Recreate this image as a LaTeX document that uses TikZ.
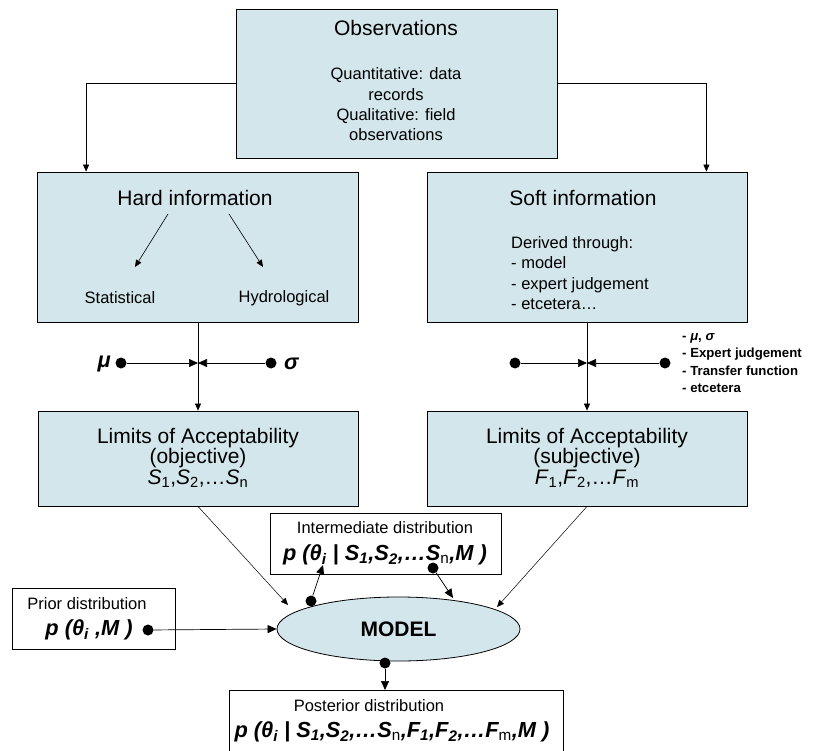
\documentclass[tikz,border=0pt]{standalone}
\usepackage{fontspec}
\setmainfont{Liberation Sans}
\usetikzlibrary{arrows.meta,shapes.geometric}
\definecolor{boxblue}{RGB}{211,230,236}
\begin{document}
\begin{tikzpicture}[x=1pt,y=-1pt,
  box/.style={draw, line width=0.8pt, fill=boxblue, inner sep=0pt},
  wbox/.style={draw, line width=0.8pt, fill=white, inner sep=0pt},
  bigf/.style={font=\fontsize{21}{20.5}\selectfont},
  fmf/.style={font=\fontsize{21.8}{22}\selectfont},
  midf/.style={font=\fontsize{16.5}{20.3}\selectfont},
  smallf/.style={font=\bfseries\fontsize{13.2}{17.5}\selectfont},
  arr/.style={-{Triangle[length=9pt,width=8pt]}, line width=0.7pt},
  sarr/.style={-{Triangle[length=7pt,width=6pt]}, line width=0.6pt},
  dotn/.style={circle, fill=black, inner sep=0pt, minimum size=11pt},
  txt/.style={inner sep=0pt}]
\clip (0,0) rectangle (813,751);
\fill[white] (0,0) rectangle (813,751);

% boxes
\node[box, minimum width=321pt, minimum height=149pt] (obs) at (396.5,83.5) {};
\node[box, minimum width=321pt, minimum height=150pt] (hard) at (198,247) {};
\node[box, minimum width=320pt, minimum height=150pt] (soft) at (587,247) {};
\node[box, minimum width=320pt, minimum height=95pt] (limL) at (198,458.5) {};
\node[box, minimum width=320pt, minimum height=95pt] (limR) at (587,458.5) {};
\node[wbox, minimum width=231pt, minimum height=61pt] (inter) at (385.5,543.5) {};
\node[wbox, minimum width=163pt, minimum height=61pt] (prior) at (93.5,618.5) {};
\node[wbox, minimum width=334pt, minimum height=90pt] (post) at (396,735) {};
\node[ellipse, draw, line width=0.8pt, fill=boxblue, minimum width=243pt, minimum height=64pt, inner sep=0pt, bigf] (model) at (398.5,629) {\bfseries MODEL};

% texts
\node[txt, bigf] (obsT) at (396,28) {Observations};
\node[txt, midf, align=center] (obsB) at (396,104.5) {Quantitative: data\\records\\Qualitative: field\\observations};
\node[txt, bigf] (hardT) at (195,198) {Hard information};
\node[txt, midf] (stat) at (120,298) {Statistical};
\node[txt, midf] (hydro) at (284,298) {Hydrological};
\node[txt, bigf] (softT) at (583,198) {Soft information};
\node[txt, midf, align=left, anchor=west] (softB) at (511,273) {Derived through:\\- model\\- expert judgement\\- etcetera…};
\node[txt, bigf, align=center] (limLT) at (198,457.5) {Limits of Acceptability\\(objective)\\\textit{S}\textsubscript{1},\textit{S}\textsubscript{2},…\textit{S}\textsubscript{n}};
\node[txt, bigf, align=center] (limRT) at (587,457.5) {Limits of Acceptability\\(subjective)\\\textit{F}\textsubscript{1},\textit{F}\textsubscript{2},…\textit{F}\textsubscript{m}};
\node[txt, midf] (interT) at (385,528) {Intermediate distribution};
\node[txt, fmf] (interF) at (385,555) {\bfseries\itshape p (θ\textsubscript{i} | S\textsubscript{1},S\textsubscript{2},…S\textsubscript{\upshape\mdseries n},M )};
\node[txt, midf] (priorT) at (87,604) {Prior distribution};
\node[txt, fmf] (priorF) at (89,630) {\bfseries\itshape p (θ\textsubscript{i} ,M )};
\node[txt, midf] (postT) at (369,706) {Posterior distribution};
\node[txt, fmf] (postF) at (392,732) {\bfseries\itshape p (θ\textsubscript{i} | S\textsubscript{1},S\textsubscript{2},…S\textsubscript{\upshape\mdseries n},F\textsubscript{1},F\textsubscript{2},…F\textsubscript{\upshape\mdseries m},M )};
\node[txt, fmf, anchor=east] (muL) at (111,364) {\bfseries\itshape μ};
\node[txt, fmf, anchor=west] (sgL) at (284,364) {\bfseries\itshape σ};
\node[txt, smallf, align=left, anchor=west] (rlist) at (682,363) {- \textit{μ}, \textit{σ}\\- Expert judgement\\- Transfer function\\- etcetera};

% observation connectors
\draw[sarr] (obs.west) -| ([xshift=49pt]hard.north west);
\draw[sarr] (obs.east) -| ([xshift=-41pt]soft.north east);

% hard information inner arrows
\coordinate (h1) at (168,214); \coordinate (h1e) at (135,267);
\coordinate (h2) at (229,214); \coordinate (h2e) at (263,267);
\draw[sarr] (h1) -- (h1e);
\draw[sarr] (h2) -- (h2e);

% mu sigma junctions
\coordinate (jH) at (198,363);
\coordinate (jS) at (587,363);
\node[dotn] (muDot) at (121,363) {};
\node[dotn] (sgDot) at (271,363) {};
\node[dotn] (rD1) at (515,363) {};
\node[dotn] (rD2) at (665,363) {};
\draw[line width=0.7pt] (hard.south) -- (jH);
\draw[sarr] (jH) -- (limL.north);
\draw[arr] (muDot) -- (jH);
\draw[arr] (sgDot) -- (jH);
\draw[line width=0.7pt] (soft.south) -- (jS);
\draw[sarr] (jS) -- (limR.north);
\draw[arr] (rD1) -- (jS);
\draw[arr] (rD2) -- (jS);

% limits to model
\coordinate (mL) at (288,605);
\coordinate (mR) at (497,607);
\draw[sarr, line width=0.5pt] (limL.south) -- (mL);
\draw[sarr, line width=0.5pt] (limR.south) -- (mR);

% prior to model
\node[dotn] (prDot) at (148,630) {};
\draw[arr] (prDot) -- (model.west);

% intermediate
\node[dotn] (iD1) at (311,601) {};
\node[dotn] (iD2) at (433,568) {};
\coordinate (iT1) at (323,565);
\coordinate (iT2) at (453,598);
\draw[arr] (iD1) -- (iT1);
\draw[arr] (iD2) -- (iT2);

% posterior
\node[dotn] (pD) at (385,663) {};
\coordinate (pT) at (385,690);
\draw[arr] (pD) -- (pT);
\end{tikzpicture}
\end{document}
